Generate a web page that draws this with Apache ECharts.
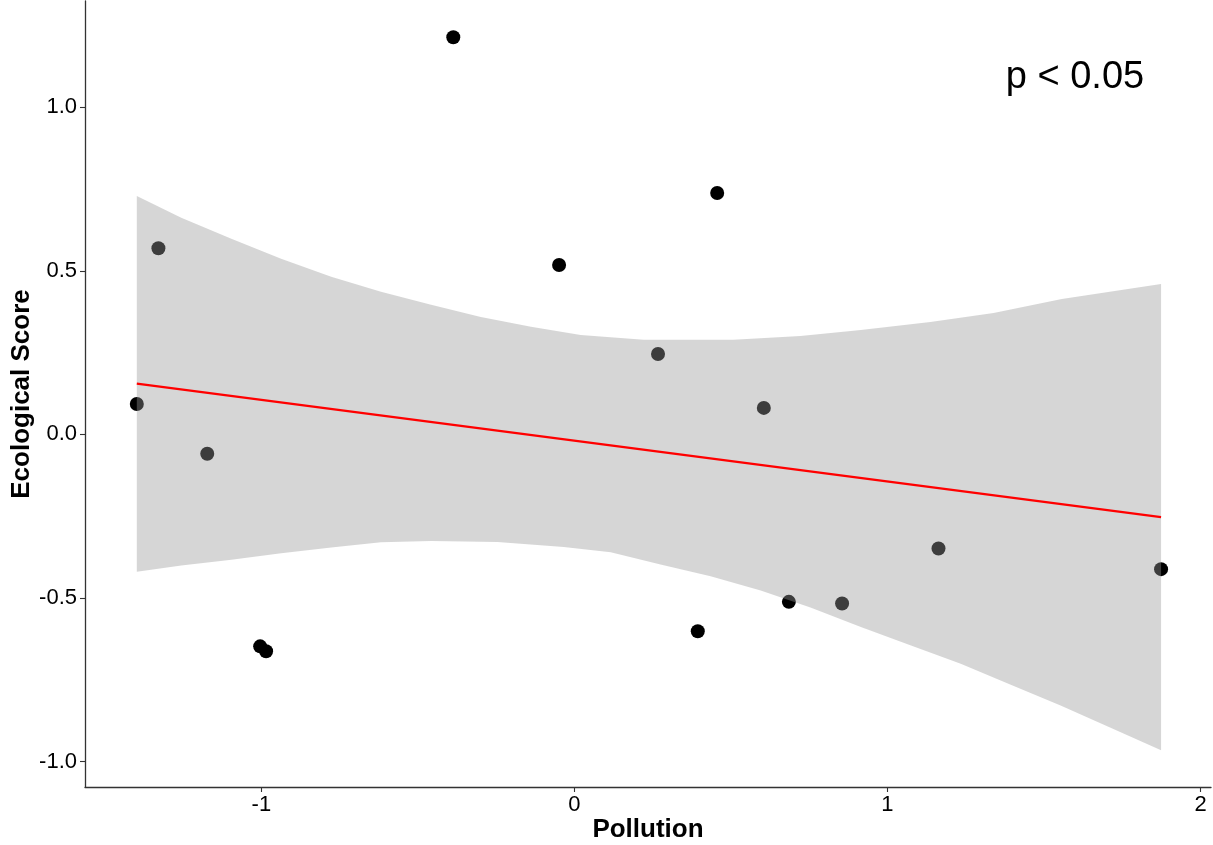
<!DOCTYPE html>
<html>
<head>
<meta charset="utf-8">
<script src="https://cdn.jsdelivr.net/npm/echarts@6/dist/echarts.min.js"></script>
<style>
html,body{margin:0;padding:0;background:#fff;width:100%;height:100%;overflow:hidden;}
#chart{width:100%;height:100%;}
</style>
</head>
<body>
<div id="chart"></div>
<script>
// Observed points (Pollution, Ecological Score)
const pollution = [-1.398, -1.329, -1.173, -1.004, -0.985, -0.387, -0.049, 0.267, 0.394, 0.456, 0.605, 0.685, 0.855, 1.163, 1.874];
const ecoScore  = [0.093, 0.569, -0.059, -0.648, -0.663, 1.214, 0.518, 0.246, -0.602, 0.738, 0.081, -0.512, -0.517, -0.349, -0.412];

// Fitted regression line (red) end points
const fitX = [-1.398, 1.874];
const fitY = [0.155, -0.253];

// Confidence band edges
const upperX = [-1.398, -1.256, -1.096, -0.937, -0.777, -0.618, -0.458, -0.299, -0.139, 0.020, 0.221, 0.508, 0.722, 0.915, 1.137, 1.339, 1.557, 1.874];
const upperY = [0.729, 0.662, 0.598, 0.537, 0.482, 0.436, 0.396, 0.359, 0.329, 0.304, 0.289, 0.289, 0.301, 0.319, 0.344, 0.371, 0.414, 0.460];
const lowerX = [-1.398, -1.256, -1.096, -0.937, -0.777, -0.618, -0.458, -0.246, -0.034, 0.116, 0.275, 0.435, 0.595, 0.754, 0.915, 1.073, 1.234, 1.392, 1.553, 1.711, 1.874];
const lowerY = [-0.420, -0.401, -0.383, -0.363, -0.346, -0.330, -0.326, -0.329, -0.344, -0.360, -0.398, -0.434, -0.477, -0.529, -0.589, -0.645, -0.701, -0.765, -0.829, -0.896, -0.966];

// Axis ticks and labels
const xTicks = [-1, 0, 1, 2];
const xTickLabels = ['-1', '0', '1', '2'];
const yTicks = [-1, -0.5, 0, 0.5, 1];
const yTickLabels = ['-1.0', '-0.5', '0.0', '0.5', '1.0'];

const xLabel = 'Pollution';
const yLabel = 'Ecological Score';
const annotation = 'p < 0.05';

const xMin = -1.5635, xMax = 2.0335;
const yMin = -1.078, yMax = 1.325;

const FONT = '"Liberation Sans", Arial, sans-serif';

const el = document.getElementById('chart');
const chart = echarts.init(el, null, {renderer: 'canvas'});

const points = pollution.map((x, i) => [x, ecoScore[i]]);
const fitLine = fitX.map((x, i) => [x, fitY[i]]);

function lab(ticks, labels, v) {
  for (let i = 0; i < ticks.length; i++) {
    if (Math.abs(ticks[i] - v) < 1e-9) return labels[i];
  }
  return '';
}

const option = {
  animation: false,
  backgroundColor: '#ffffff',
  grid: {left: 85, right: 2, top: 1, bottom: 58, containLabel: false, outerBoundsMode: 'none'},
  xAxis: {
    type: 'value', min: xMin, max: xMax,
    name: xLabel, nameLocation: 'middle', nameGap: 30, nameMoveOverlap: false,
    nameTextStyle: {fontFamily: FONT, fontSize: 26, fontWeight: 'bold', color: '#000'},
    splitLine: {show: false},
    axisLine: {show: true, onZero: false, lineStyle: {color: '#333333', width: 1.3}},
    axisTick: {show: true, length: 5, customValues: xTicks, lineStyle: {color: '#333333', width: 1.1}},
    axisLabel: {
      customValues: xTicks, margin: 7,
      fontFamily: FONT, fontSize: 22, color: '#000',
      formatter: v => lab(xTicks, xTickLabels, v)
    }
  },
  yAxis: {
    type: 'value', min: yMin, max: yMax,
    name: yLabel, nameLocation: 'middle', nameGap: 50, nameRotate: 90, nameMoveOverlap: false,
    nameTextStyle: {fontFamily: FONT, fontSize: 26, fontWeight: 'bold', color: '#000'},
    splitLine: {show: false},
    axisLine: {show: true, onZero: false, lineStyle: {color: '#333333', width: 1.3}},
    axisTick: {show: true, length: 5, customValues: yTicks, lineStyle: {color: '#333333', width: 1.1}},
    axisLabel: {
      customValues: yTicks, margin: 8,
      fontFamily: FONT, fontSize: 22, color: '#000',
      formatter: v => lab(yTicks, yTickLabels, v)
    }
  },
  series: [
    {
      type: 'scatter',
      data: points,
      symbol: 'circle',
      symbolSize: 14,
      itemStyle: {color: '#000000', opacity: 1},
      z: 2,
      silent: true
    },
    {
      type: 'custom',
      z: 3,
      silent: true,
      data: [[0, 0]],
      renderItem: function (params, api) {
        const pts = [];
        for (let i = 0; i < upperX.length; i++) pts.push(api.coord([upperX[i], upperY[i]]));
        for (let i = lowerX.length - 1; i >= 0; i--) pts.push(api.coord([lowerX[i], lowerY[i]]));
        return {
          type: 'polygon',
          shape: {points: pts},
          style: {fill: 'rgba(153,153,153,0.4)', stroke: null}
        };
      }
    },
    {
      type: 'line',
      data: fitLine,
      symbol: 'none',
      z: 4,
      silent: true,
      lineStyle: {color: '#ff0000', width: 2.2}
    }
  ],
  graphic: [
    {
      type: 'text',
      x: 1075, y: 78,
      style: {
        text: annotation,
        fontFamily: FONT, fontSize: 38, fill: '#000',
        align: 'center', verticalAlign: 'middle'
      }
    }
  ]
};

chart.setOption(option);
</script>
</body>
</html>
